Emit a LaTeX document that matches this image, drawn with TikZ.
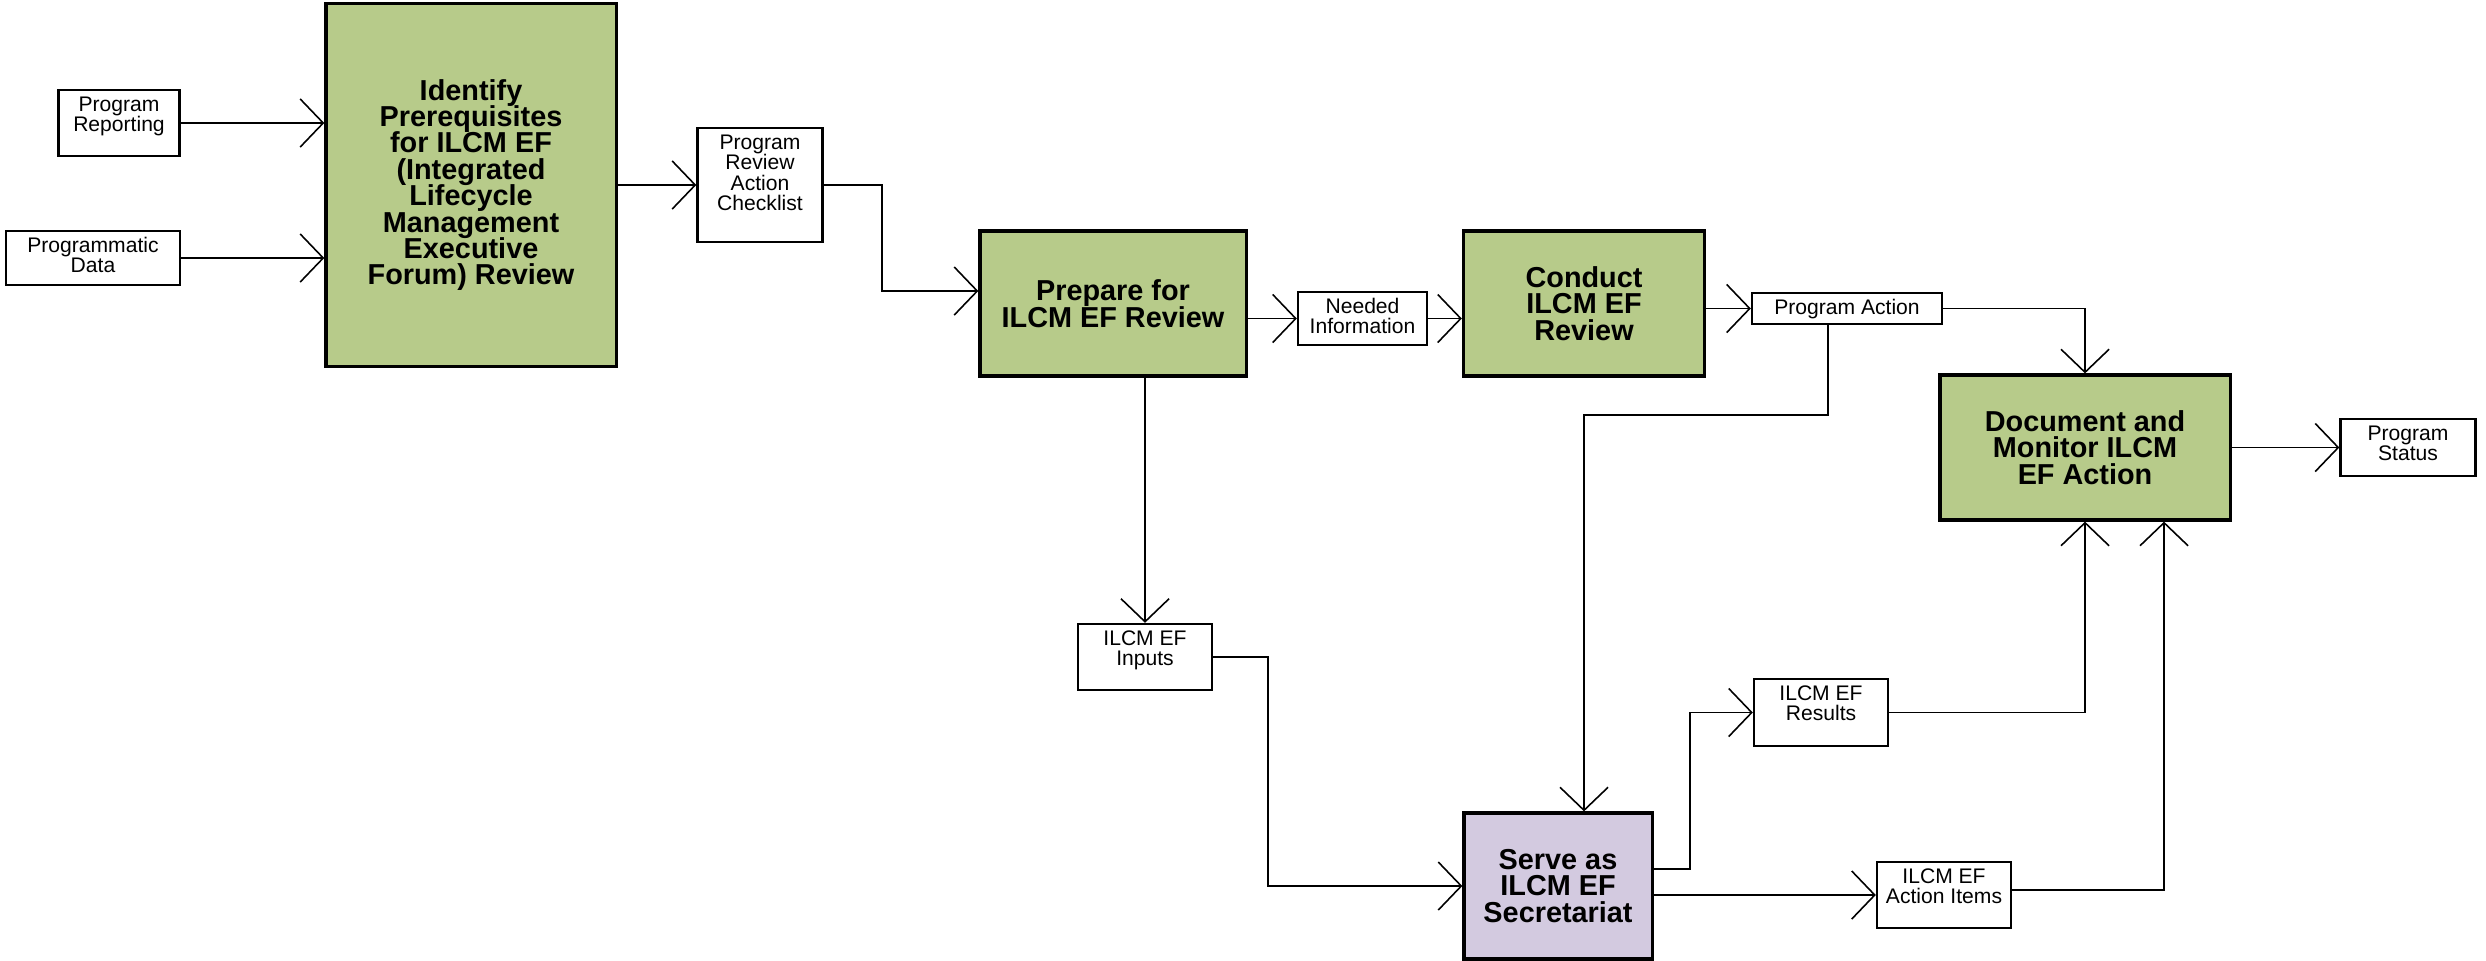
\documentclass[tikz,border=0pt]{standalone}
\usepackage{fontspec}
\setmainfont{Liberation Sans}
\usetikzlibrary{arrows.meta,calc}
\definecolor{procgreen}{HTML}{B7CB8A}
\definecolor{seclilac}{HTML}{D3CAE0}
\setlength{\lineskiplimit}{-10pt}
\begin{document}
\begin{tikzpicture}[x=0.01cm, y=-0.01cm,
    process/.style ={rectangle, draw, line width=0.9pt, fill=procgreen, inner sep=0pt, align=center,
                     font=\fontsize{8.2}{7.5}\selectfont\bfseries},
    secretariat/.style ={process, fill=seclilac},
    data/.style ={rectangle, draw, line width=0.65pt, fill=white, inner sep=0pt, align=center,
                  text height=4.18mm, font=\fontsize{6}{5.75}\selectfont},
    flow/.style ={line width=0.55pt, -{Straight Barb[length=2.3mm, width=4.8mm, line width=0.45pt]}}]
   \useasboundingbox (0,0) rectangle (2486,960);

   \node[data] (report) [minimum width=1.21cm, text depth=2.42mm] at (119,123) {Program\\Reporting};
   \node[data] (pdata) [minimum width=1.74cm, text depth=1.22mm] at (93,258) {Programmatic\\Data};
   \node[process] (ident) [minimum width=2.9cm, minimum height=3.62cm] at (471,185)
      {Identify\\Prerequisites\\for ILCM EF\\(Integrated\\Lifecycle\\Management\\Executive\\Forum) Review};
   \node[data] (check) [minimum width=1.25cm, text height=8.24mm, text depth=3.16mm] at (760,185) {Program\\Review\\Action\\Checklist};
   \node[process] (prep) [minimum width=2.66cm, minimum height=1.45cm] at (1113,303.5) {Prepare for\\ILCM EF Review};
   \node[data] (needed) [minimum width=1.29cm, text depth=1.12mm] at (1362.5,318.5) {Needed\\Information};
   \node[process] (conduct) [minimum width=2.41cm, minimum height=1.45cm] at (1584,303.5) {Conduct\\ILCM EF\\Review};
   \node[data] (paction) [minimum width=1.9cm, text height=2.15mm, text depth=0.95mm] at (1847,308.5) {Program Action};
   \node[process] (monitor) [minimum width=2.9cm, minimum height=1.45cm] at (2085,447.5) {Document and\\Monitor ILCM\\EF Action};
   \node[data] (pstatus) [minimum width=1.35cm, text depth=1.52mm] at (2408,447.5) {Program\\Status};
   \node[data] (inputs) [minimum width=1.34cm, text depth=2.42mm] at (1145,657) {ILCM EF\\Inputs};
   \node[data] (results) [minimum width=1.34cm, text depth=2.52mm] at (1821,712.5) {ILCM EF\\Results};
   \node[secretariat] (serve) [minimum width=1.88cm, minimum height=1.46cm] at (1558,886) {Serve as\\ILCM EF\\Secretariat};
   \node[data] (items) [minimum width=1.34cm, text depth=2.42mm] at (1944,895) {ILCM EF\\Action Items};

   \coordinate (c1) at (882,291);
   \coordinate (c2) at (1828,415);
   \coordinate (c3) at (1268,657);
   \coordinate (c4) at (1690,869);
   \coordinate (c5) at (2164,890);

   \draw[flow] (report.east) to (report.east -| ident.west);
   \draw[flow] (pdata.east) to (pdata.east -| ident.west);
   \draw[flow] (ident) to (check);
   \draw[flow] (check.east) -| (c1) -- (c1 -| prep.west);
   \draw[flow] (prep.east |- needed.west) to (needed.west);
   \draw[flow] (needed.east) to (needed.east -| conduct.west);
   \draw[flow] (conduct.east |- paction.west) to (paction.west);
   \draw[flow] (paction.east) -| (monitor.north);
   \draw[flow] (paction.south -| c2) -- (c2) -| (serve.north -| conduct.south);
   \draw[flow] (prep.south -| inputs.north) to (inputs.north);
   \draw[flow] (inputs.east) -- (c3) |- (serve.west);
   \draw[flow] (serve.east |- c4) -- (c4) |- (results.west);
   \draw[flow] (serve.east |- items.west) to (items.west);
   \draw[flow] (results.east) -| (monitor.south);
   \draw[flow] (items.east |- c5) -- (c5) -- (c5 |- monitor.south);
   \draw[flow] (monitor) to (pstatus);
\end{tikzpicture}
\end{document}
